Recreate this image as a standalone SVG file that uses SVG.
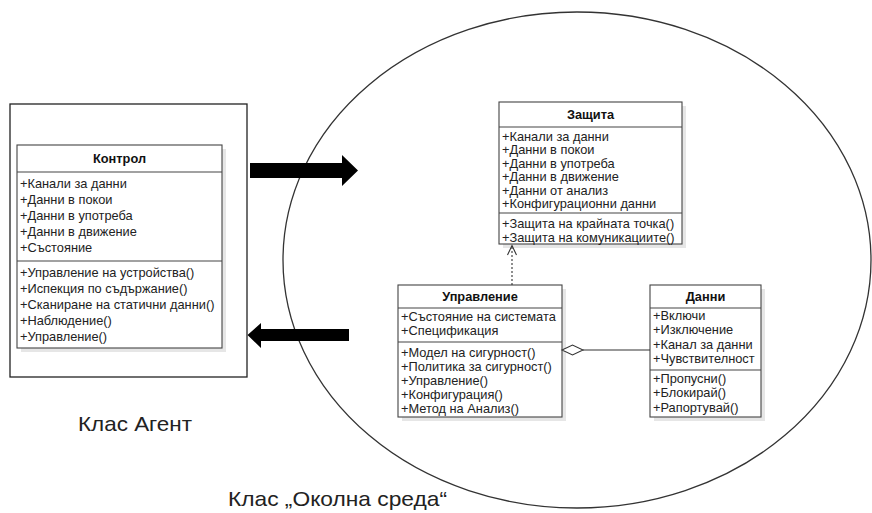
<svg xmlns="http://www.w3.org/2000/svg" width="872" height="513" viewBox="0 0 872 513">
  <style>
    .frame { fill: #fff; stroke: #222; stroke-width: 1.3; }
    .cls { fill: #fff; stroke: #444; stroke-width: 1.1; }
    .shadow { fill: #e6e6e6; }
    .sep { stroke: #444; stroke-width: 1.1; }
    .t { font-family: "Liberation Sans", Arial, sans-serif; font-size: 12.8px; fill: #222; }
    .title { font-family: "Liberation Sans", Arial, sans-serif; font-size: 12.8px; font-weight: bold; fill: #111; text-anchor: middle; }
    .cap { font-family: "Liberation Sans", Arial, sans-serif; font-size: 21px; fill: #222; }
    .conn { fill: none; stroke: #333; stroke-width: 1.1; }
  </style>

  <rect width="872" height="513" fill="#fff"/>

  <!-- environment boundary -->
  <ellipse cx="577" cy="260" rx="294" ry="248" fill="none" stroke="#333" stroke-width="1.3"/>

  <!-- agent frame -->
  <rect class="frame" x="10" y="104" width="237" height="273"/>

  <!-- Контрол -->
  <g id="kontrol">
    <rect class="shadow" x="21" y="149" width="205" height="203"/>
    <rect class="cls" x="17" y="145" width="205" height="203"/>
    <line class="sep" x1="17" y1="172" x2="222" y2="172"/>
    <line class="sep" x1="17" y1="261" x2="222" y2="261"/>
    <text class="title" x="119.5" y="163">Контрол</text>
    <text class="t" x="20" y="188">+Канали за данни</text>
    <text class="t" x="20" y="204">+Данни в покои</text>
    <text class="t" x="20" y="220">+Данни в употреба</text>
    <text class="t" x="20" y="236">+Данни в движение</text>
    <text class="t" x="20" y="252">+Състояние</text>
    <text class="t" x="20" y="277">+Управление на устройства()</text>
    <text class="t" x="20" y="293">+Испекция по съдържание()</text>
    <text class="t" x="20" y="309">+Сканиране на статични данни()</text>
    <text class="t" x="20" y="325">+Наблюдение()</text>
    <text class="t" x="20" y="341">+Управление()</text>
  </g>

  <!-- Защита -->
  <g id="zashtita">
    <rect class="shadow" x="503" y="106" width="183" height="142"/>
    <rect class="cls" x="499" y="102" width="183" height="142"/>
    <line class="sep" x1="499" y1="127" x2="682" y2="127"/>
    <line class="sep" x1="499" y1="213" x2="682" y2="213"/>
    <text class="title" x="590.5" y="119">Защита</text>
    <text class="t" x="502" y="140.5">+Канали за данни</text>
    <text class="t" x="502" y="154">+Данни в покои</text>
    <text class="t" x="502" y="167.5">+Данни в употреба</text>
    <text class="t" x="502" y="181">+Данни в движение</text>
    <text class="t" x="502" y="194.5">+Данни от анализ</text>
    <text class="t" x="502" y="208">+Конфигурационни данни</text>
    <text class="t" x="502" y="227.5">+Защита на крайната точка()</text>
    <text class="t" x="502" y="241.5">+Защита на комуникациите()</text>
  </g>

  <!-- Управление -->
  <g id="upravlenie">
    <rect class="shadow" x="402" y="289" width="164" height="132"/>
    <rect class="cls" x="398" y="285" width="164" height="132"/>
    <line class="sep" x1="398" y1="308" x2="562" y2="308"/>
    <line class="sep" x1="398" y1="342" x2="562" y2="342"/>
    <text class="title" x="480" y="301">Управление</text>
    <text class="t" x="401" y="320.5">+Състояние на системата</text>
    <text class="t" x="401" y="334.5">+Спецификация</text>
    <text class="t" x="401" y="356.5">+Модел на сигурност()</text>
    <text class="t" x="401" y="370.5">+Политика за сигурност()</text>
    <text class="t" x="401" y="384.5">+Управление()</text>
    <text class="t" x="401" y="398.5">+Конфигурация()</text>
    <text class="t" x="401" y="412.5">+Метод на Анализ()</text>
  </g>

  <!-- Данни -->
  <g id="danni">
    <rect class="shadow" x="654" y="289" width="111" height="132"/>
    <rect class="cls" x="650" y="285" width="111" height="132"/>
    <line class="sep" x1="650" y1="308" x2="761" y2="308"/>
    <line class="sep" x1="650" y1="370" x2="761" y2="370"/>
    <text class="title" x="705.5" y="301">Данни</text>
    <text class="t" x="653" y="319.5">+Включи</text>
    <text class="t" x="653" y="334">+Изключение</text>
    <text class="t" x="653" y="348.5">+Канал за данни</text>
    <text class="t" x="653" y="363">+Чувствителност</text>
    <text class="t" x="653" y="382.5">+Пропусни()</text>
    <text class="t" x="653" y="397">+Блокирай()</text>
    <text class="t" x="653" y="411.5">+Рапортувай()</text>
  </g>

  <!-- connectors -->
  <g id="connectors">
    <!-- realization: Управление to Защита -->
    <line class="conn" x1="512" y1="285" x2="512" y2="246" stroke-dasharray="2,2"/>
    <polyline class="conn" points="507.5,255 512,245.5 516.5,255"/>
    <!-- aggregation: Управление owns Данни -->
    <line class="conn" x1="583" y1="350" x2="650" y2="350"/>
    <polygon points="562,350 572.5,345 583,350 572.5,355" fill="#fff" stroke="#333" stroke-width="1.1"/>
    <!-- thick flow arrows between agent and environment -->
    <polygon points="250,163 342,163 342,155 358,170.5 342,186 342,178 250,178" fill="#000"/>
    <polygon points="247.5,335 261,323 261,329 349,329 349,341 261,341 261,348" fill="#000"/>
  </g>

  <text class="cap" x="78" y="431" textLength="114" lengthAdjust="spacingAndGlyphs">Клас Агент</text>
  <text class="cap" x="228" y="506" textLength="219" lengthAdjust="spacingAndGlyphs">Клас „Околна среда“</text>
</svg>
